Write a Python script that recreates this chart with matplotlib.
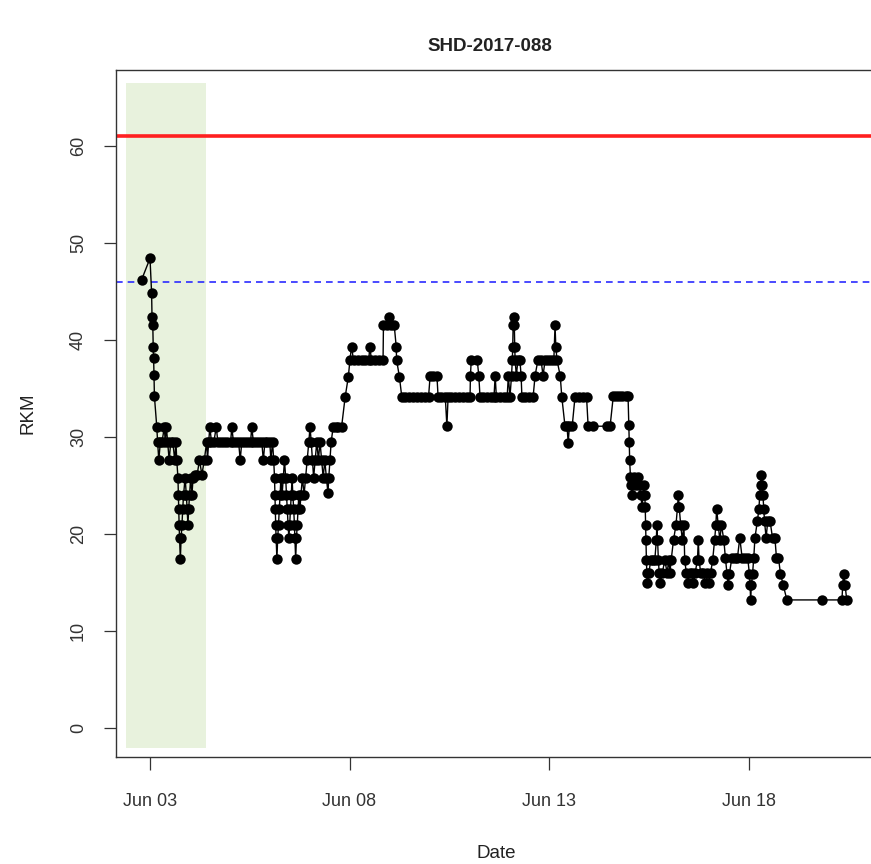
import numpy as np
import pandas as pd
import matplotlib
matplotlib.use("Agg")
import matplotlib.pyplot as plt
import matplotlib.dates as mdates

plt.rcParams['font.family'] = ['Liberation Sans', 'DejaVu Sans']

# detections: day of June 2017 (fractional) and river km
jun_day = [
    2.79, 3.00, 3.04, 3.05, 3.07, 3.08, 3.09, 3.10, 3.11, 3.17,
    3.19, 3.22, 3.26, 3.30, 3.36, 3.38, 3.41, 3.44, 3.48, 3.52,
    3.57, 3.62, 3.65, 3.67, 3.70, 3.71, 3.72, 3.73, 3.74, 3.76,
    3.78, 3.80, 3.82, 3.84, 3.88, 3.91, 3.93, 3.95, 3.97, 3.99,
    4.02, 4.05, 4.08, 4.13, 4.18, 4.24, 4.30, 4.36, 4.42, 4.44,
    4.47, 4.50, 4.54, 4.60, 4.66, 4.70, 4.78, 4.86, 4.94, 5.02,
    5.05, 5.09, 5.16, 5.22, 5.26, 5.30, 5.38, 5.46, 5.52, 5.55,
    5.59, 5.66, 5.74, 5.80, 5.84, 5.88, 5.94, 6.00, 6.03, 6.07,
    6.10, 6.12, 6.13, 6.14, 6.15, 6.16, 6.18, 6.20, 6.22, 6.24,
    6.26, 6.28, 6.31, 6.34, 6.37, 6.40, 6.42, 6.44, 6.46, 6.48,
    6.50, 6.52, 6.54, 6.56, 6.58, 6.60, 6.62, 6.63, 6.65, 6.67,
    6.69, 6.71, 6.73, 6.76, 6.78, 6.82, 6.86, 6.90, 6.94, 6.98,
    7.01, 7.04, 7.07, 7.10, 7.14, 7.18, 7.22, 7.26, 7.30, 7.34,
    7.38, 7.42, 7.46, 7.48, 7.51, 7.54, 7.59, 7.66, 7.72, 7.80,
    7.89, 7.97, 8.01, 8.05, 8.10, 8.20, 8.30, 8.40, 8.48, 8.51,
    8.55, 8.65, 8.75, 8.84, 8.85, 8.95, 9.00, 9.03, 9.12, 9.17,
    9.18, 9.25, 9.31, 9.40, 9.50, 9.60, 9.70, 9.80, 9.90, 9.98,
    10.02, 10.10, 10.19, 10.22, 10.30, 10.40, 10.44, 10.47, 10.55, 10.65,
    10.75, 10.85, 10.95, 11.02, 11.03, 11.05, 11.20, 11.24, 11.27, 11.35,
    11.45, 11.55, 11.62, 11.65, 11.68, 11.78, 11.88, 11.95, 11.98, 12.02,
    12.06, 12.08, 12.09, 12.10, 12.11, 12.13, 12.14, 12.15, 12.18, 12.22,
    12.27, 12.30, 12.32, 12.40, 12.50, 12.60, 12.65, 12.72, 12.80, 12.85,
    12.90, 12.98, 13.05, 13.12, 13.15, 13.17, 13.20, 13.28, 13.32, 13.40,
    13.45, 13.48, 13.51, 13.58, 13.65, 13.75, 13.85, 13.94, 13.98, 14.10,
    14.45, 14.53, 14.61, 14.68, 14.76, 14.84, 14.92, 14.98, 15.00, 15.01,
    15.02, 15.04, 15.06, 15.08, 15.10, 15.14, 15.18, 15.22, 15.26, 15.30,
    15.33, 15.36, 15.38, 15.40, 15.41, 15.42, 15.43, 15.44, 15.45, 15.46,
    15.50, 15.55, 15.60, 15.65, 15.69, 15.70, 15.72, 15.74, 15.76, 15.78,
    15.84, 15.90, 15.96, 16.00, 16.03, 16.06, 16.12, 16.18, 16.22, 16.24,
    16.26, 16.30, 16.34, 16.38, 16.40, 16.44, 16.48, 16.52, 16.58, 16.62,
    16.66, 16.72, 16.74, 16.76, 16.80, 16.86, 16.92, 16.96, 17.00, 17.05,
    17.10, 17.15, 17.18, 17.20, 17.24, 17.28, 17.32, 17.38, 17.42, 17.46,
    17.49, 17.52, 17.58, 17.66, 17.72, 17.78, 17.84, 17.92, 17.98, 18.02,
    18.04, 18.05, 18.07, 18.10, 18.13, 18.16, 18.22, 18.26, 18.28, 18.30,
    18.32, 18.34, 18.36, 18.38, 18.40, 18.44, 18.48, 18.54, 18.60, 18.66,
    18.70, 18.75, 18.80, 18.87, 18.96, 19.83, 20.34, 20.36, 20.38, 20.42,
    20.46,
]
rkm = [
    46.2, 48.4, 44.8, 42.4, 41.5, 39.3, 38.1, 36.4, 34.2, 31.0,
    29.5, 27.6, 29.5, 29.5, 31.0, 29.5, 31.0, 29.5, 27.6, 29.5,
    29.5, 27.6, 29.5, 27.6, 25.8, 24.0, 22.6, 20.9, 19.6, 17.4,
    19.6, 20.9, 22.6, 24.0, 25.8, 24.0, 22.6, 20.9, 22.6, 24.0,
    25.8, 24.0, 25.8, 26.1, 26.1, 27.6, 26.1, 27.6, 29.5, 27.6,
    29.5, 31.0, 29.5, 29.5, 31.0, 29.5, 29.5, 29.5, 29.5, 29.5,
    31.0, 29.5, 29.5, 29.5, 27.6, 29.5, 29.5, 29.5, 29.5, 31.0,
    29.5, 29.5, 29.5, 29.5, 27.6, 29.5, 29.5, 29.5, 27.6, 29.5,
    27.6, 25.8, 24.0, 22.6, 20.9, 19.6, 17.4, 19.6, 20.9, 22.6,
    24.0, 25.8, 24.0, 25.8, 27.6, 25.8, 24.0, 22.6, 20.9, 19.6,
    20.9, 22.6, 24.0, 25.8, 24.0, 22.6, 20.9, 19.6, 17.4, 19.6,
    20.9, 22.6, 24.0, 22.6, 24.0, 25.8, 24.0, 25.8, 27.6, 29.5,
    31.0, 29.5, 27.6, 25.8, 27.6, 29.5, 27.6, 29.5, 27.6, 25.8,
    27.6, 25.8, 24.2, 25.8, 27.6, 29.5, 31.0, 31.0, 31.0, 31.0,
    34.1, 36.2, 37.9, 39.3, 37.9, 37.9, 37.9, 37.9, 37.9, 39.3,
    37.9, 37.9, 37.9, 37.9, 41.5, 41.5, 42.4, 41.5, 41.5, 39.3,
    37.9, 36.2, 34.1, 34.1, 34.1, 34.1, 34.1, 34.1, 34.1, 34.1,
    36.3, 36.3, 36.3, 34.1, 34.1, 34.1, 31.1, 34.1, 34.1, 34.1,
    34.1, 34.1, 34.1, 34.1, 36.3, 37.9, 37.9, 36.3, 34.1, 34.1,
    34.1, 34.1, 34.1, 36.3, 34.1, 34.1, 34.1, 34.1, 36.3, 34.1,
    36.3, 37.9, 39.3, 41.5, 42.4, 41.5, 39.3, 37.9, 36.3, 37.9,
    37.9, 36.3, 34.1, 34.1, 34.1, 34.1, 36.3, 37.9, 37.9, 36.3,
    37.9, 37.9, 37.9, 37.9, 41.5, 39.3, 37.9, 36.3, 34.1, 31.1,
    31.1, 29.4, 31.1, 31.1, 34.1, 34.1, 34.1, 34.1, 31.1, 31.1,
    31.1, 31.1, 34.2, 34.2, 34.2, 34.2, 34.2, 34.2, 31.2, 29.5,
    27.6, 25.9, 25.0, 24.0, 25.0, 25.9, 25.0, 25.9, 25.0, 24.0,
    22.8, 24.0, 25.0, 24.0, 22.8, 20.9, 19.4, 17.3, 16.0, 14.9,
    16.0, 17.3, 17.3, 17.3, 19.4, 20.9, 19.4, 17.3, 16.0, 14.9,
    16.0, 17.3, 16.0, 17.3, 16.0, 17.3, 19.4, 20.9, 22.8, 24.0,
    22.8, 20.9, 19.4, 20.9, 17.3, 16.0, 14.9, 16.0, 16.0, 14.9,
    16.0, 17.3, 19.4, 17.3, 16.0, 16.0, 14.9, 16.0, 14.9, 16.0,
    17.3, 19.4, 20.9, 22.6, 20.9, 19.4, 20.9, 19.4, 17.5, 15.9,
    14.7, 15.9, 17.5, 17.5, 17.5, 19.6, 17.5, 17.5, 17.5, 15.9,
    14.7, 13.2, 14.7, 15.9, 17.5, 19.6, 21.3, 22.6, 24.0, 25.0,
    26.1, 25.0, 24.0, 22.6, 21.3, 19.6, 21.3, 21.3, 19.6, 19.6,
    17.5, 17.5, 15.9, 14.7, 13.2, 13.2, 13.2, 14.7, 15.9, 14.7,
    13.2,
]

# reference lines and highlighted window
upper_rkm = 61.0
release_rkm = 46.0
window_start, window_end = 2.40, 4.40
x_tick_days = [3, 8, 13, 18]
y_ticks = [0, 10, 20, 30, 40, 50, 60]


def to_time(days):
    return pd.Timestamp('2017-06-01') + pd.to_timedelta(np.asarray(days) - 1, unit='D')


times = to_time(jun_day)

fig = plt.figure(figsize=(8.71, 8.64), dpi=100)
ax = fig.add_axes([0.1332, 0.1238, 0.8726, 0.7951])

ax.axvspan(to_time([window_start])[0], to_time([window_end])[0],
           ymin=0.013, ymax=0.981, color='#e8f2dd', lw=0, zorder=0)
ax.axhline(upper_rkm, color='#ff2020', lw=2.6, zorder=1)
ax.axhline(release_rkm, color='#2b2bff', lw=1.2, ls=(0, (4, 3)), zorder=1)

ax.plot(times, rkm, color='black', lw=1.0, marker='o', ms=7.5,
        markeredgewidth=0, zorder=3)

ax.set_xlim(to_time([2.148])[0], to_time([21.195])[0])
ax.set_ylim(-2.99, 67.8)

ax.set_xticks(to_time(x_tick_days))
ax.xaxis.set_major_formatter(mdates.DateFormatter('%b %d'))
ax.set_yticks(y_ticks)
ax.set_yticklabels([str(v) for v in y_ticks], rotation=90, va='center')

ax.tick_params(axis='both', direction='out', length=9, width=0.9,
               labelsize=13, colors='#333333')
ax.tick_params(axis='x', pad=17)
ax.tick_params(axis='y', pad=12)

for side in ['left', 'bottom', 'top', 'right']:
    ax.spines[side].set_color('#333333')
    ax.spines[side].set_linewidth(1.0)

ax.set_xlabel('Date', fontsize=13.5, labelpad=25, color='#222222')
ax.set_ylabel('RKM', fontsize=13.5, labelpad=24, color='#222222')
fig.text(0.563, 0.946, 'SHD-2017-088', ha='center', va='center',
         fontsize=13.5, fontweight='bold', color='#222222')

fig.savefig('out.png', dpi=100)
